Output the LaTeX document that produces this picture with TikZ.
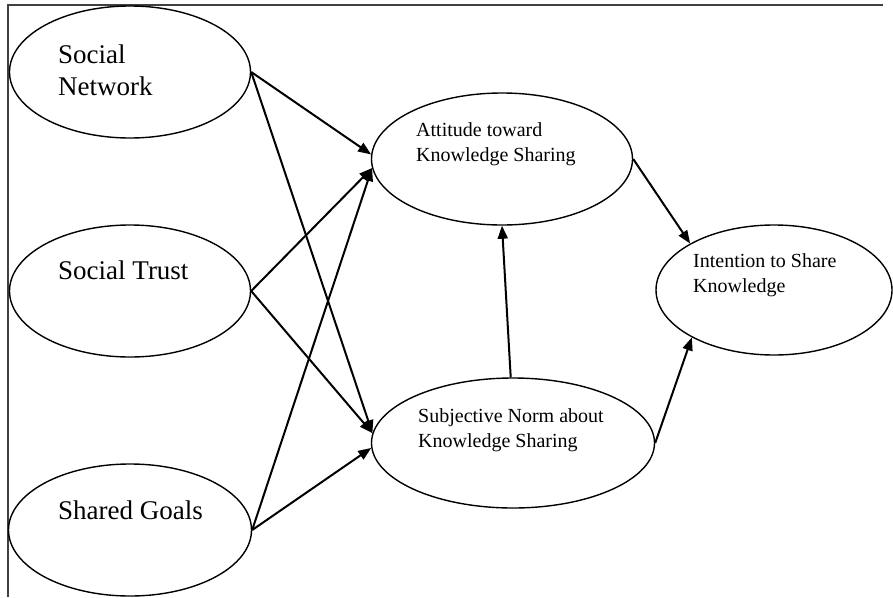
\documentclass[tikz,border=0pt]{standalone}
\usepackage{fontspec}
\setmainfont{Liberation Serif}
\usetikzlibrary{arrows.meta,shapes.geometric}
\begin{document}
\begin{tikzpicture}[x=1pt,y=-1pt,
  oval/.style={draw,ellipse,line width=1.4pt,inner sep=0pt},
  bigtxt/.style={anchor=base west,inner sep=0pt,align=left,font=\fontsize{27}{32}\selectfont},
  smalltxt/.style={anchor=base west,inner sep=0pt,align=left,font=\fontsize{20}{24.5}\selectfont},
  link/.style={line width=2pt,-{Triangle[length=13pt,width=10pt]}},
  frameline/.style={line width=1.2pt,draw=black!75}]
\useasboundingbox (0,0) rectangle (893,597);
\draw[frameline] (883,5) -- (8,5) -- (8,597);
% ellipses
\node[oval,minimum width=241pt,minimum height=132pt] (sn) at (130,72) {};
\node[oval,minimum width=241pt,minimum height=132pt] (st) at (130,291) {};
\node[oval,minimum width=243pt,minimum height=132pt] (sg) at (130,530) {};
\node[oval,minimum width=261pt,minimum height=132pt] (att) at (502,159) {};
\node[oval,minimum width=283pt,minimum height=130pt] (sub) at (513,443) {};
\node[oval,minimum width=236pt,minimum height=130pt] (int) at (774,290) {};
% texts
\node[bigtxt] (snt) at (58,95) {Social\\Network};
\node[bigtxt] (stt) at (58,279) {Social Trust};
\node[bigtxt] (sgt) at (58,519) {Shared Goals};
\node[smalltxt] (attt) at (416,161) {Attitude toward\\Knowledge Sharing};
\node[smalltxt] (subt) at (418,447) {Subjective Norm about\\Knowledge Sharing};
\node[smalltxt] (intt) at (693,292) {Intention to Share\\Knowledge};
% connectors
\draw[link] (sn.east) -- (att.178);
\draw[link] (sn.east) -- (sub.176);
\draw[link] (st.east) -- (att.184);
\draw[link] (st.east) -- (sub.176);
\draw[link] (sg.east) -- (att.184);
\draw[link] (sg.east) -- (sub.182);
\draw[link] (sub.92) -- (att.south);
\draw[link] (att.east) -- (int.151);
\draw[link] (sub.east) -- (int.210);
\end{tikzpicture}
\end{document}
